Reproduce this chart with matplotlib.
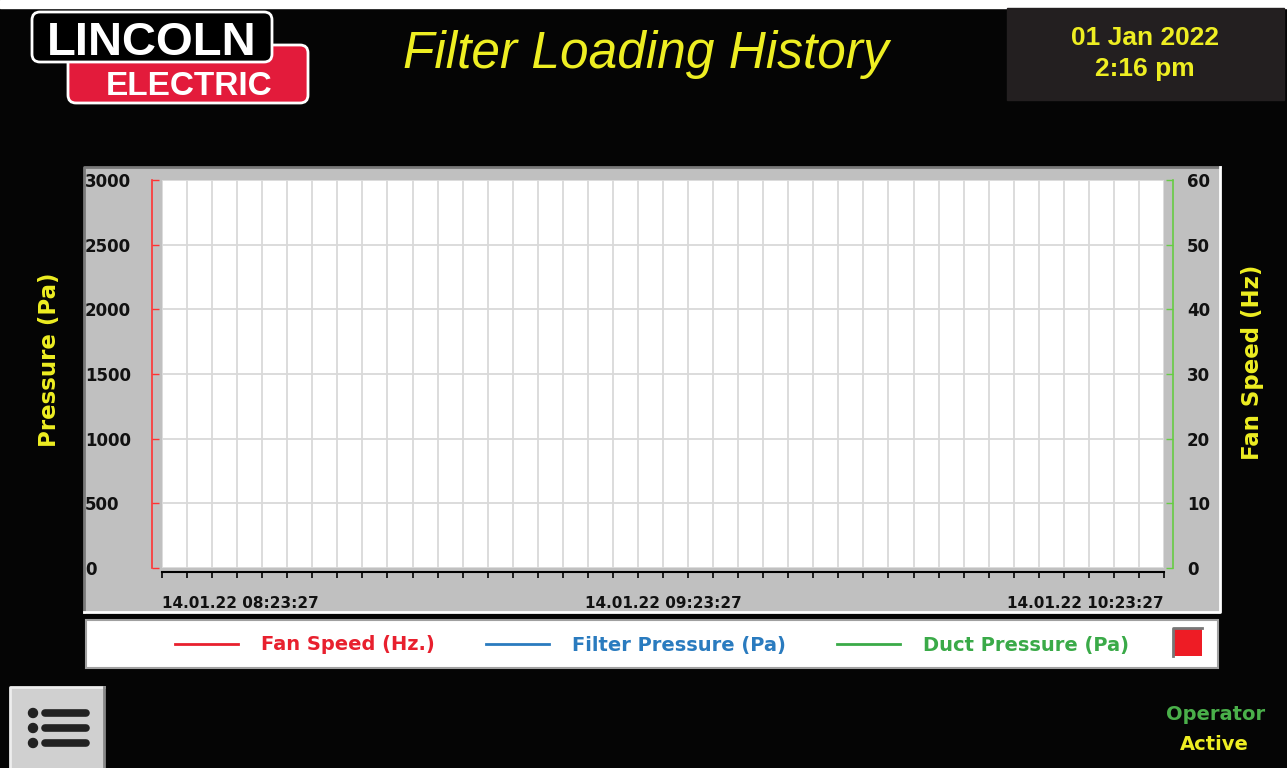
#Historial de carga del filtro - pantalla HMI (sin datos registrados)
import datetime as dt
import matplotlib
matplotlib.use("Agg")
import matplotlib.pyplot as plt
from matplotlib.patches import Rectangle, FancyBboxPatch, Circle
from matplotlib.lines import Line2D

W, H = 1287, 768
PT = 72 / 100  # pixeles -> puntos

# --- datos ---
t_inicio = dt.datetime(2022, 1, 14, 8, 23, 27)
t_fin = dt.datetime(2022, 1, 14, 10, 23, 27)
paso_min = 3
etiquetas_x = ["14.01.22 08:23:27", "14.01.22 09:23:27", "14.01.22 10:23:27"]
presion_ticks = [0, 500, 1000, 1500, 2000, 2500, 3000]
velocidad_ticks = [0, 10, 20, 30, 40, 50, 60]

# las series estan vacias en la captura
tiempos = []
fan_speed = []
filter_pressure = []
duct_pressure = []

series = [("Fan Speed (Hz.)", "#e8202e"),
          ("Filter Pressure (Pa)", "#2a7bbf"),
          ("Duct Pressure (Pa)", "#3aaa48")]

AMARILLO = "#eeee22"

fig = plt.figure(figsize=(W / 100, H / 100), dpi=100, facecolor="#050505")

# capa de fondo en pixeles
bg = fig.add_axes([0, 0, 1, 1], zorder=-1)
bg.set_xlim(0, W)
bg.set_ylim(H, 0)
bg.axis("off")

bg.add_patch(Rectangle((0, 0), W, 8, color="white"))

# logo
bg.add_patch(FancyBboxPatch((68, 45), 240, 58, boxstyle="round,pad=0,rounding_size=8",
                            fc="#e31b3b", ec="white", lw=2))
bg.add_patch(FancyBboxPatch((32, 12), 240, 50, boxstyle="round,pad=0,rounding_size=8",
                            fc="black", ec="white", lw=2))
bg.text(152, 55, "LINCOLN", color="white", fontsize=34, fontweight="bold",
        family="Liberation Sans", ha="center", va="baseline")
bg.text(189, 95, "ELECTRIC", color="white", fontsize=24, fontweight="bold",
        family="Liberation Sans", ha="center", va="baseline")

# titulo
bg.text(646, 68, "Filter Loading History", color=AMARILLO, fontsize=37, style="italic",
        family="Liberation Sans", ha="center", va="baseline")

# fecha
bg.add_patch(Rectangle((1007, 8), 277, 92, color="#231f20"))
bg.text(1145, 45, "01 Jan 2022", color=AMARILLO, fontsize=19, fontweight="bold",
        family="Liberation Sans", ha="center", va="baseline")
bg.text(1145, 76, "2:16 pm", color=AMARILLO, fontsize=19, fontweight="bold",
        family="Liberation Sans", ha="center", va="baseline")

# panel gris del grafico
bg.add_patch(Rectangle((84, 167), 1136, 445, fc="#c0c0c0", ec="none"))
bg.plot([84, 84, 1220], [612, 167, 167], color="#7a7a7a", lw=2)
bg.plot([84, 1220, 1220], [612, 612, 167], color="white", lw=2)

# cuadro de leyenda
bg.add_patch(Rectangle((86, 620), 1132, 48, fc="white", ec="#a0a0a0", lw=1.5))
bg.add_patch(Rectangle((1173, 628), 29, 28, fc="#ee1c25", ec="none"))
bg.plot([1173, 1173, 1202], [656, 628, 628], color="#777777", lw=2)

# ejes
bg.text(50, 360, "Pressure (Pa)", color=AMARILLO, fontsize=16.5, fontweight="bold",
        rotation=90, ha="center", va="center")
bg.text(1252, 362, "Fan Speed (Hz)", color=AMARILLO, fontsize=16.5, fontweight="bold",
        rotation=90, ha="center", va="center")

# boton de menu
bg.add_patch(Rectangle((10, 687), 94, 90, fc="#d0d0d0", ec="none"))
bg.plot([10, 10, 104], [768, 687, 687], color="#eeeeee", lw=2)
bg.plot([104, 104], [687, 768], color="#888888", lw=2)
for yy in [713, 728, 743]:
    bg.add_patch(Circle((33, yy), 4.5, color="#222222"))
    bg.plot([45, 86], [yy, yy], color="#222222", lw=5.5, solid_capstyle="round")

# estado
bg.text(1216, 715, "Operator", color="#4ab04a", fontsize=14, fontweight="bold",
        ha="center", va="center")
bg.text(1214, 745, "Active", color=AMARILLO, fontsize=14, fontweight="bold",
        ha="center", va="center")

# --- grafico ---
ax = fig.add_axes([162 / W, 1 - 568 / H, 1002 / W, 388 / H], zorder=1)
ax.set_facecolor("white")
ax.xaxis_date()
ax2 = ax.twinx()

ax.plot(tiempos, filter_pressure, color=series[1][1], lw=2)
ax.plot(tiempos, duct_pressure, color=series[2][1], lw=2)
ax2.plot(tiempos, fan_speed, color=series[0][1], lw=2)

ax.set_xlim(t_inicio, t_fin)
ax.set_ylim(presion_ticks[0], presion_ticks[-1])
ax2.set_ylim(velocidad_ticks[0], velocidad_ticks[-1])

n_pasos = int((t_fin - t_inicio).total_seconds() / 60 / paso_min)
xt = [t_inicio + dt.timedelta(minutes=paso_min * i) for i in range(n_pasos + 1)]
ax.set_xticks(xt)
lbls = [""] * len(xt)
lbls[0], lbls[len(xt) // 2], lbls[-1] = etiquetas_x
ax.set_xticklabels(lbls)

ax.set_yticks(presion_ticks)
ax2.set_yticks(velocidad_ticks)
ax.grid(True, color="#d9d9d9", lw=1.3)
ax.set_axisbelow(True)

for s in ["top", "right"]:
    ax.spines[s].set_visible(False)
for s in ["top", "left", "bottom"]:
    ax2.spines[s].set_visible(False)

ax.spines["left"].set_position(("outward", 10 * PT))
ax.spines["left"].set_color("#ff3333")
ax.spines["left"].set_linewidth(1.2)
ax.spines["bottom"].set_position(("outward", 4 * PT))
ax.spines["bottom"].set_linewidth(1.5)
ax2.spines["right"].set_position(("outward", 9 * PT))
ax2.spines["right"].set_color("#66cc44")
ax2.spines["right"].set_linewidth(1.2)

ax.tick_params(axis="y", direction="in", length=5, width=1, color="#ff3333",
               pad=67 * PT, labelsize=12, labelcolor="#111111")
ax2.tick_params(axis="y", direction="in", length=5, width=1, color="#66cc44",
                pad=14 * PT, labelsize=12, labelcolor="#111111")
ax.tick_params(axis="x", direction="out", length=4.5, width=1.2, pad=13,
               labelsize=11, labelcolor="#111111")

for lb in ax.get_yticklabels():
    lb.set_ha("left")
    lb.set_fontweight("bold")
for lb in ax2.get_yticklabels():
    lb.set_fontweight("bold")
xlabs = ax.get_xticklabels()
for lb in xlabs:
    lb.set_fontweight("bold")
for i, alin in zip((0, len(xt) // 2, len(xt) - 1), ["left", "center", "right"]):
    xlabs[i].set_ha(alin)

# leyenda
handles = [Line2D([], [], color=c, lw=2) for _, c in series]
leg = fig.legend(handles, [n for n, _ in series], loc="center",
                 bbox_to_anchor=(652 / W, 1 - 645 / H), ncol=3, frameon=False,
                 handlelength=3.25, handletextpad=1.2, columnspacing=2.6,
                 prop={"weight": "bold", "size": 14})
for txt, (_, c) in zip(leg.get_texts(), series):
    txt.set_color(c)

fig.savefig("out.png", dpi=100, facecolor=fig.get_facecolor())
